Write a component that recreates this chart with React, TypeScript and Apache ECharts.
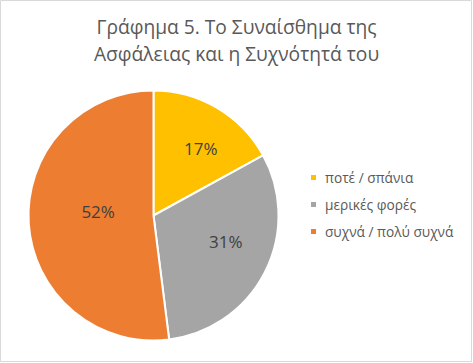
import React, { useEffect, useRef } from "react";
import * as echarts from "echarts";

const titleLines = ["Γράφημα 5. Το Συναίσθημα της", "Ασφάλειας και η Συχνότητά του"];
const categories = ["ποτέ / σπάνια", "μερικές φορές", "συχνά / πολύ συχνά"];
const values = [17, 31, 52];
const colors = ["#FFC000", "#A5A5A5", "#ED7D31"];
const labelOffsets = [
  [14, -11],
  [14, -4],
  [10, -8],
];

export default function App() {
  const ref = useRef<HTMLDivElement>(null);
  useEffect(() => {
    document.body.style.margin = "0";
    const chart = echarts.init(ref.current!, null, { renderer: "svg" });
    chart.setOption({
      animation: false,
      backgroundColor: "#ffffff",
      title: {
        text: titleLines.join("\n"),
        left: "center",
        top: 8,
        textStyle: {
          fontFamily: "Open Sans",
          fontSize: 19.2,
          fontWeight: "normal",
          color: "#595959",
          lineHeight: 27,
        },
      },
      legend: {
        orient: "vertical",
        left: 304,
        top: 165,
        itemWidth: 7,
        itemHeight: 7,
        itemGap: 12,
        icon: "rect",
        data: categories,
        textStyle: {
          fontFamily: "Open Sans",
          fontSize: 13.7,
          color: "#595959",
          padding: [0, 0, 0, 3],
          lineHeight: 15,
        },
      },
      graphic: [
        {
          type: "rect",
          shape: { x: 0.5, y: 0.5, width: 471, height: 361 },
          style: { fill: "none", stroke: "#D9D9D9", lineWidth: 1 },
        },
      ],
      series: [
        {
          type: "pie",
          center: [153.5, 215.5],
          radius: 125,
          startAngle: 90,
          clockwise: true,
          data: categories.map((c, i) => ({
            name: c,
            value: values[i],
            itemStyle: { color: colors[i] },
            label: { offset: labelOffsets[i] },
          })),
          itemStyle: { borderColor: "#ffffff", borderWidth: 2 },
          label: {
            position: "inner",
            formatter: "{d}%",
            fontFamily: "Open Sans",
            fontSize: 17,
            color: "#404040",
          },
          labelLine: { show: false },
        },
      ],
    });
    return () => chart.dispose();
  }, []);
  return <div ref={ref} style={{ width: 473, height: 363 }} />;
}
